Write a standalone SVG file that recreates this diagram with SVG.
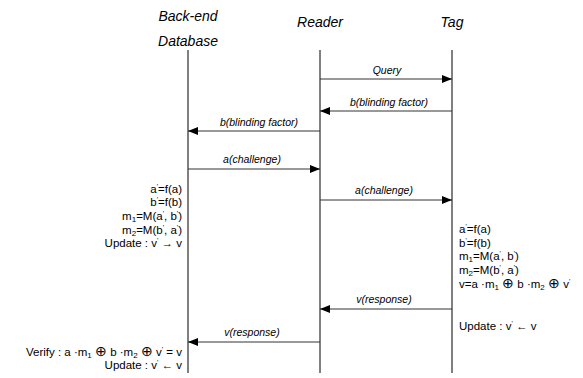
<svg xmlns="http://www.w3.org/2000/svg" width="583" height="378" viewBox="0 0 583 378">
  <defs>
    <marker id="arrow" viewBox="0 0 10 8" refX="10" refY="4" markerWidth="10" markerHeight="8" markerUnits="userSpaceOnUse" orient="auto">
      <path d="M0,0 L10,4 L0,8 Z" fill="#000"/>
    </marker>
  </defs>
  <style>
    text { font-family: "Liberation Sans", Arial, sans-serif; fill: #000; }
    .head { font-size: 14px; font-style: italic; text-anchor: middle; }
    .lbl { font-size: 10.5px; font-style: italic; text-anchor: middle; }
    .calc { font-size: 11.5px; }
    .r { text-anchor: end; }
    .life { stroke: #000; stroke-width: 1; }
    .msg { stroke: #333; stroke-width: 1; fill: none; marker-end: url(#arrow); }
    .pr { font-size: 7px; }
    .sub { font-size: 8px; }
    .op { font-size: 14px; font-family: "DejaVu Sans ExtraLight", "DejaVu Sans", sans-serif; font-weight: 200; }
  </style>

  <rect width="583" height="378" fill="#fff"/>

  <!-- participants -->
  <g id="database">
    <text class="head" x="188" y="21">Back-end</text>
    <text class="head" x="188" y="46">Database</text>
    <line class="life" x1="188" y1="50" x2="188" y2="373"/>
  </g>
  <g id="reader">
    <text class="head" x="320" y="27">Reader</text>
    <line class="life" x1="320" y1="50" x2="320" y2="373"/>
  </g>
  <g id="tag">
    <text class="head" x="452" y="27">Tag</text>
    <line class="life" x1="452" y1="50" x2="452" y2="373"/>
  </g>

  <!-- messages -->
  <g id="connectors">
    <line class="msg" x1="320" y1="79" x2="452" y2="79"/>
    <text class="lbl" x="387" y="74">Query</text>

    <line class="msg" x1="452" y1="111" x2="320" y2="111"/>
    <text class="lbl" x="389" y="106">b(blinding factor)</text>

    <line class="msg" x1="320" y1="131" x2="188" y2="131"/>
    <text class="lbl" x="259" y="126">b(blinding factor)</text>

    <line class="msg" x1="188" y1="169" x2="320" y2="169"/>
    <text class="lbl" x="252" y="163">a(challenge)</text>

    <line class="msg" x1="320" y1="200" x2="452" y2="200"/>
    <text class="lbl" x="384" y="194">a(challenge)</text>

    <line class="msg" x1="452" y1="309" x2="320" y2="309"/>
    <text class="lbl" x="384" y="303">v(response)</text>

    <line class="msg" x1="320" y1="342" x2="188" y2="342"/>
    <text class="lbl" x="252" y="336">v(response)</text>
  </g>

  <!-- back-end computations -->
  <g id="db-calc">
    <text class="calc r" x="182" y="193">a<tspan class="pr" dy="-4">'</tspan><tspan dy="4">=f(a)</tspan></text>
    <text class="calc r" x="182" y="206">b<tspan class="pr" dy="-4">'</tspan><tspan dy="4">=f(b)</tspan></text>
    <text class="calc r" x="182" y="220">m<tspan class="sub" dy="2">1</tspan><tspan dy="-2">=M(a</tspan><tspan class="pr" dy="-4">'</tspan><tspan dy="4">, b</tspan><tspan class="pr" dy="-4">'</tspan><tspan dy="4">)</tspan></text>
    <text class="calc r" x="182" y="234">m<tspan class="sub" dy="2">2</tspan><tspan dy="-2">=M(b</tspan><tspan class="pr" dy="-4">'</tspan><tspan dy="4">, a</tspan><tspan class="pr" dy="-4">'</tspan><tspan dy="4">)</tspan></text>
    <text class="calc r" x="182" y="247">Update : v<tspan class="pr" dy="-4">'</tspan><tspan dy="4"> → v</tspan></text>
  </g>

  <!-- tag computations -->
  <g id="tag-calc">
    <text class="calc" x="459" y="233">a<tspan class="pr" dy="-4">'</tspan><tspan dy="4">=f(a)</tspan></text>
    <text class="calc" x="459" y="247">b<tspan class="pr" dy="-4">'</tspan><tspan dy="4">=f(b)</tspan></text>
    <text class="calc" x="459" y="260">m<tspan class="sub" dy="2">1</tspan><tspan dy="-2">=M(a</tspan><tspan class="pr" dy="-4">'</tspan><tspan dy="4">, b</tspan><tspan class="pr" dy="-4">'</tspan><tspan dy="4">)</tspan></text>
    <text class="calc" x="459" y="274">m<tspan class="sub" dy="2">2</tspan><tspan dy="-2">=M(b</tspan><tspan class="pr" dy="-4">'</tspan><tspan dy="4">, a</tspan><tspan class="pr" dy="-4">'</tspan><tspan dy="4">)</tspan></text>
    <text class="calc" x="459" y="288">v=a  ·m<tspan class="sub" dy="2">1</tspan><tspan dy="-2"> </tspan><tspan class="op">⊕</tspan> b  ·m<tspan class="sub" dy="2">2</tspan><tspan dy="-2"> </tspan><tspan class="op">⊕</tspan> v<tspan class="pr" dy="-4">'</tspan></text>
    <text class="calc" x="459" y="330">Update : v<tspan class="pr" dy="-4">'</tspan><tspan dy="4"> ← v</tspan></text>
  </g>

  <!-- verification at the back-end -->
  <g id="db-verify">
    <text class="calc r" x="182" y="356">Verify : a  ·m<tspan class="sub" dy="2">1</tspan><tspan dy="-2"> </tspan><tspan class="op">⊕</tspan>   b  ·m<tspan class="sub" dy="2">2</tspan><tspan dy="-2"> </tspan><tspan class="op">⊕</tspan> v<tspan class="pr" dy="-4">'</tspan><tspan dy="4"> = v</tspan></text>
    <text class="calc r" x="182" y="369">Update : v<tspan class="pr" dy="-4">'</tspan><tspan dy="4"> ← v</tspan></text>
  </g>
</svg>
